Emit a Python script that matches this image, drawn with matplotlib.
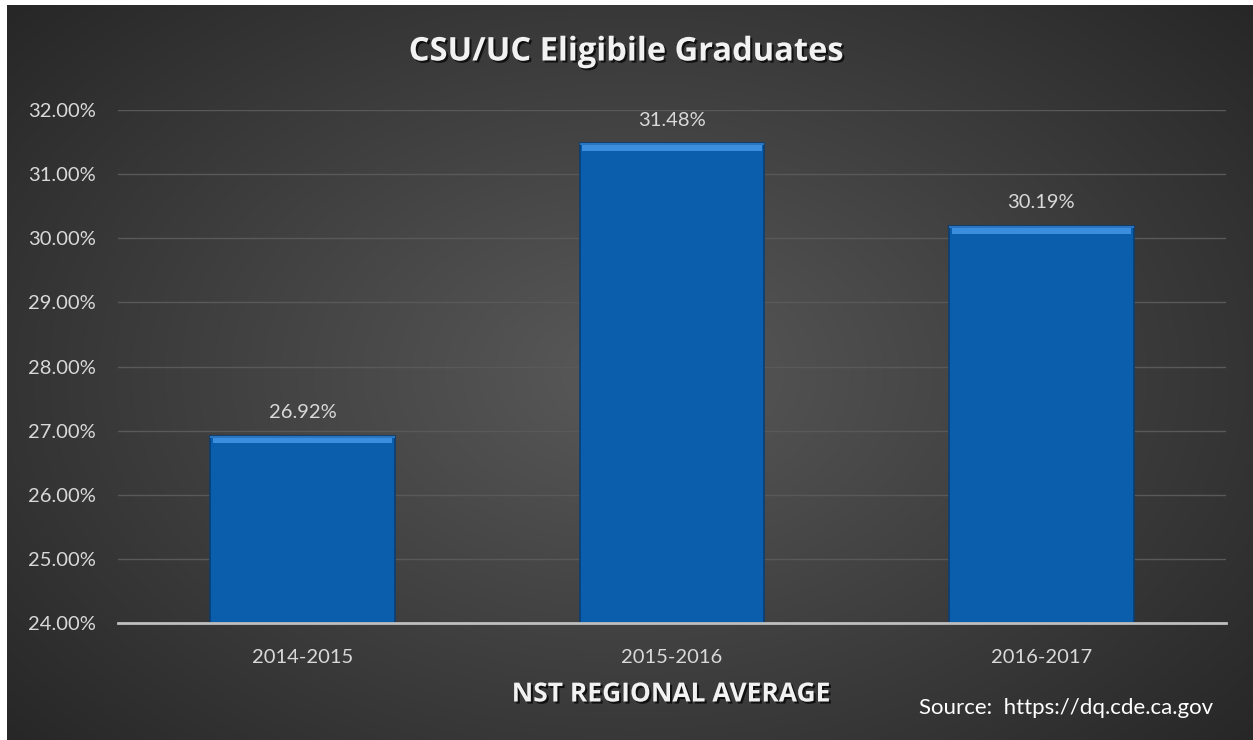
import numpy as np
import matplotlib
matplotlib.use('Agg')
import matplotlib.pyplot as plt
import matplotlib.patheffects as pe
from matplotlib.ticker import FuncFormatter

years = ['2014-2015', '2015-2016', '2016-2017']
eligible = [26.92, 31.48, 30.19]
yticks = [24, 25, 26, 27, 28, 29, 30, 31, 32]

plt.rcParams['font.family'] = ['Lato', 'DejaVu Sans']

fig = plt.figure(figsize=(12.53, 7.40), dpi=100, facecolor='white')

# dark radial background
bg = fig.add_axes([7 / 1253, 0, 1 - 7 / 1253, 735 / 740])
yy, xx = np.mgrid[0:300, 0:500]
d = np.sqrt(((xx - 250) / 250) ** 2 + ((yy - 150) / 170) ** 2)
d = np.clip(d / 1.35, 0, 1)
shade = 0.35 - 0.20 * d
img = np.dstack([shade, shade, shade])
bg.imshow(img, aspect='auto', extent=[0, 1, 0, 1])
bg.axis('off')

ax = fig.add_axes([118 / 1253, 117 / 740, 1108 / 1253, 513 / 740])
ax.set_facecolor('none')

x = np.arange(len(years))
shadow = [pe.SimplePatchShadow(offset=(0, -2), shadow_rgbFace='black', alpha=0.6), pe.Normal()]
bars = ax.bar(x, [v - 24 for v in eligible], bottom=24, width=0.5, color='#0b5eac',
              edgecolor='#0a3e72', linewidth=1.2, zorder=3, path_effects=shadow)
# bevel highlight along top of each bar
ax.bar(x, [0.09] * 3, bottom=[v - 0.12 for v in eligible], width=0.485, color='#3b8ddd',
       linewidth=0, zorder=4)
ax.bar(x, [0.03] * 3, bottom=[v - 0.03 for v in eligible], width=0.5, color='#2a74c0',
       linewidth=0, zorder=4)

for xi, v in zip(x, eligible):
    ax.text(xi, v + 0.36, f'{v:.2f}%', ha='center', va='center', color='#d9d9d9', fontsize=14.5)

ax.set_ylim(24, 32)
ax.set_xlim(-0.5, 2.5)
ax.set_yticks(yticks)
ax.yaxis.set_major_formatter(FuncFormatter(lambda v, p: f'{v:.2f}%'))
ax.set_xticks(x)
ax.set_xticklabels(years)
ax.tick_params(axis='both', length=0, colors='#d9d9d9', labelsize=14.5)
ax.tick_params(axis='y', pad=16)
ax.tick_params(axis='x', pad=19)
ax.grid(axis='y', color='#595959', linewidth=1, zorder=0)
ax.set_axisbelow(True)
for s in ['top', 'right', 'left']:
    ax.spines[s].set_visible(False)
ax.spines['bottom'].set_color('#bfbfbf')
ax.spines['bottom'].set_linewidth(2)
ax.spines['bottom'].set_zorder(5)

txt_shadow = [pe.SimplePatchShadow(offset=(1.5, -1.5), shadow_rgbFace='black', alpha=0.7), pe.Normal()]
fig.text(626 / 1253, 1 - 52 / 740, 'CSU/UC Eligibile Graduates', ha='center', va='center',
         color='#f2f2f2', fontsize=23.5, fontweight='bold', family=['Open Sans', 'DejaVu Sans'],
         path_effects=txt_shadow)
fig.text(671 / 1253, 1 - 694 / 740, 'NST REGIONAL AVERAGE', ha='center', va='center',
         color='#f2f2f2', fontsize=19, fontweight='bold', family=['Open Sans', 'DejaVu Sans'],
         path_effects=txt_shadow)
fig.text(1213 / 1253, 1 - 708 / 740, 'Source:  https://dq.cde.ca.gov', ha='right', va='center',
         color='white', fontsize=16)

fig.savefig('out.png', dpi=100, facecolor='white')
